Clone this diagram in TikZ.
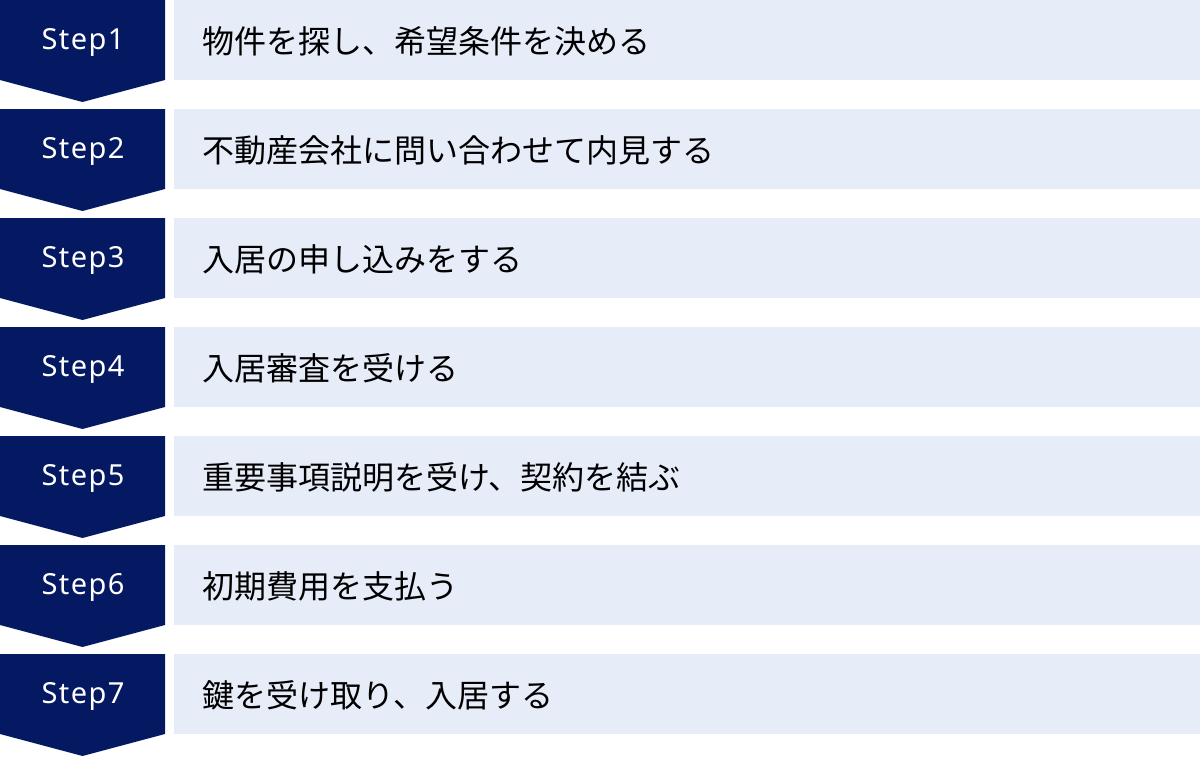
\documentclass[tikz,border=0pt]{standalone}
\usepackage{fontspec}
\setmainfont{Noto Sans}
\newfontfamily\jpfont{Noto Sans CJK JP}
\definecolor{navy}{HTML}{051962}
\definecolor{lightbg}{HTML}{E7ECF9}
\begin{document}
\begin{tikzpicture}[x=1pt,y=-1pt,
  stepshape/.style={fill=navy,draw=none},
  itembox/.style={fill=lightbg,draw=none,minimum width=1026pt,minimum height=80pt,anchor=north west,inner sep=0pt},
  steplabel/.style={text=white,font=\fontsize{29}{34}\selectfont,anchor=center},
  itemlabel/.style={text=black,font=\jpfont\fontsize{32}{38}\selectfont,anchor=west}]
\useasboundingbox (0,0) rectangle (1200,756);
\foreach \i/\t in {1/物件を探し、希望条件を決める,2/不動産会社に問い合わせて内見する,3/入居の申し込みをする,4/入居審査を受ける,5/重要事項説明を受け、契約を結ぶ,6/初期費用を支払う,7/鍵を受け取り、入居する}{
  \pgfmathsetmacro{\top}{(\i-1)*109}
  \fill[stepshape] (0,\top) -- (165,\top) -- (165,\top+80) -- (82.5,\top+102) -- (0,\top+80) -- cycle;
  \node[itembox] (box\i) at (174,\top) {};
  \node[steplabel] (step\i) at (83,\top+42) {\addfontfeature{LetterSpace=5}Step\i};
  \node[itemlabel] (item\i) at (199,\top+41) {\t};
}
\end{tikzpicture}
\end{document}
